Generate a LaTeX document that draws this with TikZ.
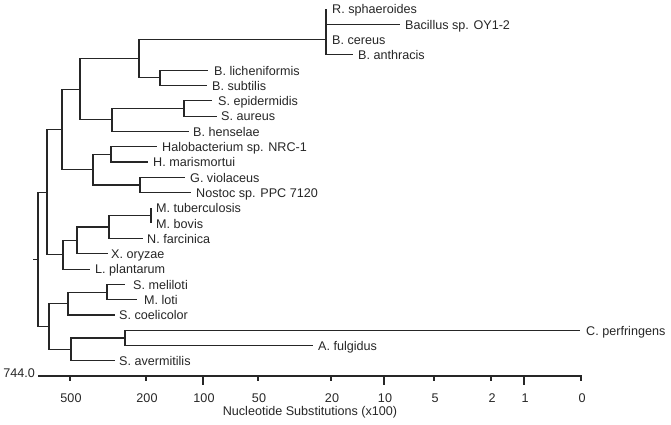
\documentclass[tikz,border=0pt]{standalone}
\usepackage{fontspec}
\setmainfont{Liberation Sans}
\begin{document}
\begin{tikzpicture}[x=1pt,y=-1pt,
  br/.style={draw=black!85,line width=1.1pt},
  lab/.style={anchor=base west,inner sep=0pt,font=\fontsize{12.6}{15}\selectfont,text=black!85},
  ticklab/.style={anchor=base,inner sep=0pt,font=\fontsize{12.6}{15}\selectfont,text=black!85}]
\useasboundingbox (0,0) rectangle (671,424);
% leaf macro: name, end x, y, label x, text
\newcommand\leafnode[5]{%
  \coordinate (#1) at (#2,#3);
  \node[lab] (#1-t) at ({#4-1},{#3+4.8}) {#5};}
\leafnode{rsph}{326}{9.0}{333}{R. sphaeroides}
\leafnode{bacoy}{400}{24.3}{406}{Bacillus sp. OY1-2}
\leafnode{bcer}{326}{39.6}{333}{B. cereus}
\leafnode{banth}{353}{54.9}{359}{B. anthracis}
\leafnode{blich}{208}{70.2}{215}{B. licheniformis}
\leafnode{bsub}{207}{85.5}{213}{B. subtilis}
\leafnode{sepi}{212}{100.8}{219}{S. epidermidis}
\leafnode{saur}{217}{116.1}{222}{S. aureus}
\leafnode{bhen}{189}{131.4}{194}{B. henselae}
\leafnode{halo}{157}{146.7}{163}{Halobacterium sp. NRC-1}
\leafnode{hmar}{148}{162.0}{154}{H. marismortui}
\leafnode{gvio}{185}{177.3}{191}{G. violaceus}
\leafnode{nost}{191}{192.6}{197}{Nostoc sp. PPC 7120}
\leafnode{mtub}{151}{207.9}{157}{M. tuberculosis}
\leafnode{mbov}{151}{223.2}{157}{M. bovis}
\leafnode{nfar}{143}{238.5}{148}{N. farcinica}
\leafnode{xory}{108}{253.8}{112}{X. oryzae}
\leafnode{lpla}{90}{269.1}{96}{L. plantarum}
\leafnode{smel}{125}{284.4}{134}{S. meliloti}
\leafnode{mlot}{137}{299.7}{145}{M. loti}
\leafnode{scoe}{115}{315.0}{120}{S. coelicolor}
\leafnode{cper}{580}{330.3}{587}{C. perfringens}
\leafnode{aful}{313}{345.6}{319}{A. fulgidus}
\leafnode{save}{115}{360.9}{120}{S. avermitilis}
% internal nodes
\coordinate (c1) at (326,39.6);
\coordinate (c2) at (160,77.85);
\coordinate (a111) at (139,58.7);
\coordinate (c3) at (184,108.45);
\coordinate (a112) at (112,119.9);
\coordinate (a11) at (80,89.3);
\coordinate (c4) at (111,154.35);
\coordinate (c5) at (140,184.95);
\coordinate (a12) at (93,169.65);
\coordinate (a1) at (62,129.5);
\coordinate (d3) at (151,215.55);
\coordinate (d2) at (109,227.0);
\coordinate (d1) at (77,240.4);
\coordinate (a2) at (63,254.7);
\coordinate (a) at (47,192.1);
\coordinate (e11) at (107,292.05);
\coordinate (e1) at (68,303.5);
\coordinate (e21) at (125,337.95);
\coordinate (e2) at (71,349.4);
\coordinate (b) at (49,326.5);
\coordinate (root) at (38,259.3);
\coordinate (stub) at (33,259.3);
% branches
\draw[br] (c1) |- (rsph) (c1) |- (bacoy) (c1) |- (bcer) (c1) |- (banth);
\draw[br] (c2) |- (blich) (c2) |- (bsub);
\draw[br] (a111) |- (c1) (a111) |- (c2);
\draw[br] (c3) |- (sepi) (c3) |- (saur);
\draw[br] (a112) |- (c3) (a112) |- (bhen);
\draw[br] (a11) |- (a111) (a11) |- (a112);
\draw[br] (c4) |- (halo) (c4) |- (hmar);
\draw[br] (c5) |- (gvio) (c5) |- (nost);
\draw[br] (a12) |- (c4) (a12) |- (c5);
\draw[br] (a1) |- (a11) (a1) |- (a12);
\draw[br] (d3) |- (mtub) (d3) |- (mbov);
\draw[br] (d2) |- (d3) (d2) |- (nfar);
\draw[br] (d1) |- (d2) (d1) |- (xory);
\draw[br] (a2) |- (d1) (a2) |- (lpla);
\draw[br] (a) |- (a1) (a) |- (a2);
\draw[br] (e11) |- (smel) (e11) |- (mlot);
\draw[br] (e1) |- (e11) (e1) |- (scoe);
\draw[br] (e21) |- (cper) (e21) |- (aful);
\draw[br] (e2) |- (e21) (e2) |- (save);
\draw[br] (b) |- (e1) (b) |- (e2);
\draw[br] (root) |- (a) (root) |- (b);
\draw[br] (stub) -- (root);
% axis
\coordinate (ax0) at (38,376);
\coordinate (ax1) at (582,376);
\draw[br] (ax0) -- (ax1);
\node[anchor=base east,inner sep=0pt,font=\fontsize{12.6}{15}\selectfont,text=black!85] (axmax) at (35,377) {744.0};
\foreach \xx/\lab/\len in {70/500/5,146/200/5,203/100/9,258/50/5,331/20/5,384/10/9,434/5/5,491/2/5,524/1/9,581/0/5}{
  \coordinate (tk\lab) at (\xx,376);
  \draw[br] (tk\lab) -- ++(0,\len);
  \node[ticklab] (tl\lab) at (\xx+1,402) {\lab};
}
\node[ticklab] (axtitle) at (310,415) {Nucleotide Substitutions (x100)};
\end{tikzpicture}
\end{document}
